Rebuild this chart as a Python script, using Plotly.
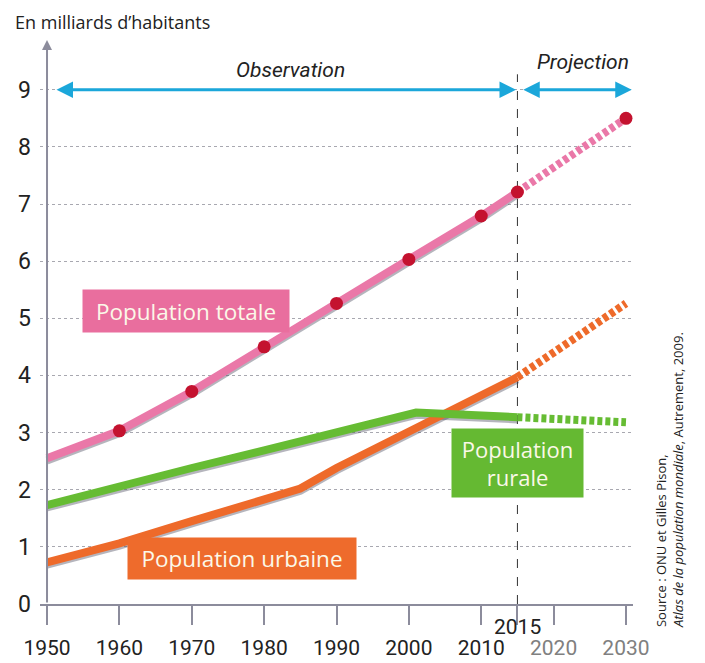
import plotly.graph_objects as go

# ---------------- data ----------------
total_years = [1950, 1960, 1970, 1980, 1990, 2000, 2010, 2015]
total_vals = [2.55, 3.03, 3.72, 4.50, 5.26, 6.03, 6.79, 7.21]
total_proj_years = [2015, 2030]
total_proj_vals = [7.21, 8.50]

rural_years = [1950, 1960, 1970, 1980, 1990, 2001, 2015]
rural_vals = [1.73, 2.07, 2.38, 2.69, 3.00, 3.35, 3.27]
rural_proj_years = [2015, 2030]
rural_proj_vals = [3.27, 3.18]

urban_years = [1950, 1960, 1970, 1980, 1985, 1990, 2000, 2010, 2015]
urban_vals = [0.73, 1.06, 1.45, 1.82, 2.02, 2.38, 3.01, 3.65, 3.97]
urban_proj_years = [2015, 2030]
urban_proj_vals = [3.97, 5.26]

x_tick_vals = [1950, 1960, 1970, 1980, 1990, 2000, 2010, 2015, 2020, 2030]
x_tick_text = ["1950", "1960", "1970", "1980", "1990", "2000", "2010", "",
               "<span style='color:#808080'>2020</span>",
               "<span style='color:#808080'>2030</span>"]
y_tick_vals = [0, 1, 2, 3, 4, 5, 6, 7, 8, 9]

PINK = "#EA78A8"
DOT = "#C4122F"
GREEN = "#66BC33"
ORANGE = "#EE6A2A"
CYAN = "#1BA7DA"
AXIS = "#8c8c9c"
SHADOW = "rgba(70,70,90,0.4)"
LABEL_TXT = "#FBF8E8"
COND = "Roboto, Liberation Sans, sans-serif"
HUM = "Open Sans, Noto Sans, sans-serif"

Y_MAX = 9.87
SHADOW_SHIFT = 0.04  # shadows sit on a hidden base axis offset by ~2px

fig = go.Figure()

def add_series(xo, yo, xp, yp, color):
    # shadow on the hidden base axis "y" (drawn beneath)
    fig.add_trace(go.Scatter(x=xo, y=yo, mode="lines", line=dict(color=SHADOW, width=8),
                             yaxis="y", hoverinfo="skip", showlegend=False))
    fig.add_trace(go.Scatter(x=xo, y=yo, mode="lines", line=dict(color=color, width=8),
                             yaxis="y2", showlegend=False))
    fig.add_trace(go.Scatter(x=xp, y=yp, mode="lines",
                             line=dict(color=color, width=8, dash="5px,3px"),
                             yaxis="y2", showlegend=False))

add_series(urban_years, urban_vals, urban_proj_years, urban_proj_vals, ORANGE)
add_series(rural_years, rural_vals, rural_proj_years, rural_proj_vals, GREEN)
add_series(total_years, total_vals, total_proj_years, total_proj_vals, PINK)

fig.add_trace(go.Scatter(x=total_years[1:] + total_proj_years[1:],
                         y=total_vals[1:] + total_proj_vals[1:],
                         mode="markers", marker=dict(color=DOT, size=13),
                         yaxis="y2", showlegend=False))

shapes = [
    dict(type="line", xref="x", yref="y2", x0=2015, x1=2015, y0=0, y1=9.27,
         line=dict(color="#333", width=1, dash="dash"), layer="below"),
]

annotations = [
    # y axis arrow
    dict(x=1950, y=Y_MAX, ax=1950, ay=0, xref="x", yref="y2", axref="x", ayref="y2",
         showarrow=True, arrowhead=2, arrowsize=1, arrowwidth=2, arrowcolor=AXIS, text=""),
    # observation arrow
    dict(x=2014.8, y=9.0, ax=1951.1, ay=9.0, xref="x", yref="y2", axref="x", ayref="y2",
         showarrow=True, arrowhead=2, startarrowhead=2, arrowside="end+start",
         arrowsize=1.1, startarrowsize=1.1, arrowwidth=3, arrowcolor=CYAN, text=""),
    # projection arrow
    dict(x=2030.8, y=9.0, ax=2015.6, ay=9.0, xref="x", yref="y2", axref="x", ayref="y2",
         showarrow=True, arrowhead=2, startarrowhead=2, arrowside="end+start",
         arrowsize=1.1, startarrowsize=1.1, arrowwidth=3, arrowcolor=CYAN, text=""),
    dict(x=1983.6, y=9.35, xref="x", yref="y2", text="<i>Observation</i>", showarrow=False,
         font=dict(family=COND, size=21, color="#222")),
    dict(x=2024.1, y=9.49, xref="x", yref="y2", text="<i>Projection</i>", showarrow=False,
         font=dict(family=COND, size=21, color="#222")),
    # label boxes
    dict(x=1969.2, y=5.13, xref="x", yref="y2", text="Population totale", showarrow=False,
         bgcolor="#E96E9E", width=206, height=42, borderpad=0,
         font=dict(family=HUM, size=22.5, color=LABEL_TXT)),
    dict(x=2015.0, y=2.47, xref="x", yref="y2", text="Population<br>rurale", showarrow=False,
         bgcolor="#65B932", width=131, height=68, borderpad=0,
         font=dict(family=HUM, size=22, color=LABEL_TXT)),
    dict(x=1976.9, y=0.80, xref="x", yref="y2", text="Population urbaine", showarrow=False,
         bgcolor="#EE6B2C", width=228, height=41, borderpad=0,
         font=dict(family=HUM, size=22.5, color=LABEL_TXT)),
    # 2015 label
    dict(x=2015, y=-0.0408, xref="x", yref="paper", text="2015", showarrow=False,
         yanchor="middle", font=dict(family=COND, size=21, color="#222")),
    # title
    dict(x=-0.0455, y=1.032, xref="paper", yref="paper", text="En milliards d’habitants",
         showarrow=False, xanchor="left", yanchor="middle",
         font=dict(family=HUM, size=18, color="#222")),
    # source
    dict(x=1.0625, y=-0.0460, xref="paper", yref="paper", textangle=-90,
         text="Source : ONU et Gilles Pison,<br><i>Atlas de la population mondiale</i>, Autrement, 2009.",
         showarrow=False, xanchor="center", yanchor="bottom", align="left",
         font=dict(family=HUM, size=13, color="#222")),
]

fig.update_layout(
    width=705, height=663,
    margin=dict(l=40, r=72, t=40, b=59),
    paper_bgcolor="white", plot_bgcolor="white",
    shapes=shapes, annotations=annotations,
    xaxis=dict(range=[1949.03, 2030.97], tickvals=x_tick_vals, ticktext=x_tick_text,
               automargin=False,
               showgrid=False, zeroline=False, showline=True, linecolor=AXIS, linewidth=2,
               ticks="outside", ticklen=19, tickwidth=2, tickcolor=AXIS,
               ticklabelstandoff=5,
               tickfont=dict(family=COND, size=21, color="#222")),
    yaxis=dict(range=[SHADOW_SHIFT, Y_MAX + SHADOW_SHIFT], visible=False,
               automargin=False, showgrid=False, zeroline=False),
    yaxis2=dict(range=[0, Y_MAX], overlaying="y", side="left", tickvals=y_tick_vals,
                showgrid=True, gridcolor="#a8a8b0", automargin=False,
                griddash="dot", gridwidth=1, zeroline=False, showline=False, ticks="",
                ticklabelstandoff=8,
                tickfont=dict(family=COND, size=23, color="#222")),
)

fig.write_html("out.html", post_script="document.body.style.margin='0';",
               config={"displayModeBar": False})
